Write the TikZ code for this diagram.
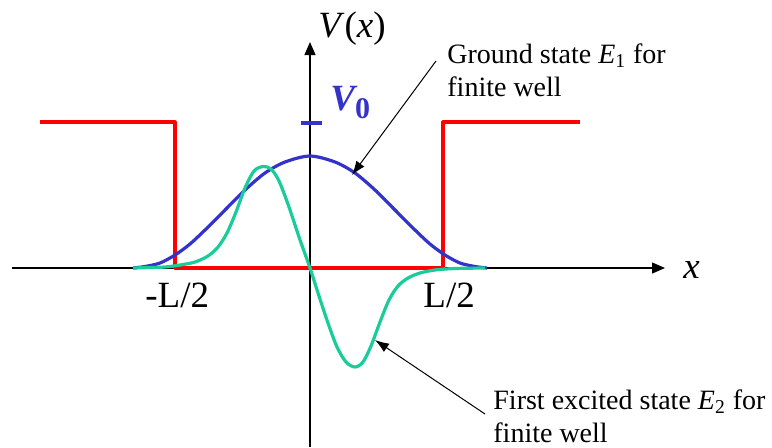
\documentclass[tikz,border=0pt]{standalone}
\usepackage{fontspec}
\setmainfont{Liberation Serif}
\usetikzlibrary{arrows.meta}
\definecolor{wellred}{RGB}{255,0,0}
\definecolor{groundblue}{RGB}{51,51,204}
\definecolor{excitedgreen}{RGB}{26,204,153}

\begin{document}
\begin{tikzpicture}[x=0.5pt, y=-0.5pt, line join=round,
    axis/.style={line width=0.6pt, -{Triangle[length=6.5pt,width=5.5pt]}},
    wave/.style={line width=1.6pt, smooth, tension=0.5},
    pointer/.style={line width=0.5pt, -{Latex[length=7pt,width=5pt]}},
    biglabel/.style={inner sep=0pt, font=\fontsize{18.5}{20}\selectfont},
    note/.style={inner sep=0pt, align=left, font=\fontsize{14}{16.5}\selectfont}]
  \useasboundingbox (0,0) rectangle (772,447);
  % axes
  \coordinate (xl) at (12,268);
  \coordinate (xr) at (665,268);
  \coordinate (yb) at (310,447);
  \coordinate (yt) at (310,42);
  \draw[axis] (xl) -- (xr);
  \draw[axis] (yb) -- (yt);
  \node[biglabel, anchor=base west] (xlab) at (683,278) {\textit{x}};
  \node[biglabel, anchor=base west] (vlab) at (318,37) {\textit{V}(\textit{x})};
  \node[biglabel, anchor=base west] (lm) at (145,307) {-L/2};
  \node[biglabel, anchor=base west] (lp) at (423,307) {L/2};
  % finite well
  \draw[wellred, line width=1.6pt] (40,122) -- (175,122) -- (175,268) -- (443,268) -- (443,122) -- (580,122);
  \coordinate (v0l) at (301,123);
  \coordinate (v0r) at (322,123);
  \draw[groundblue, line width=1.6pt] (v0l) -- (v0r);
  \node[biglabel, groundblue, anchor=base west, font=\fontsize{18.5}{20}\selectfont\bfseries\itshape] (v0) at (330,110)
    {V\raisebox{-4pt}{\fontsize{15}{15}\selectfont\upshape 0}};
  % wave functions
  \draw[groundblue, wave] plot coordinates {(133,268) (145,266.5) (160,263) (175,255) (190,244) (205,230)
    (225,210) (245,190) (265,173) (285,162) (310,156) (335,162) (355,173) (375,190) (395,210) (415,230)
    (430,244) (445,255) (460,263) (475,266.5) (487,268)};
  \draw[excitedgreen, wave] plot coordinates {(133,268) (150,267.5) (165,267) (180,265) (195,262) (208,256)
    (218,247) (227,233) (236,212) (245,188) (254,171) (263,166.5) (271,169) (279,181) (289,207) (299,237)
    (310,268) (319,296) (328,323) (337,347) (346,362) (355,367) (363,362) (371,346) (380,322) (389,300)
    (398,286) (408,278) (420,273) (435,270) (455,268.5) (485,268)};
  % labels
  \node[note, anchor=north west] (gs) at (447,43) {Ground state \textit{E}\textsubscript{1} for\\finite well};
  \node[note, anchor=north west] (es) at (493,389) {First excited state \textit{E}\textsubscript{2} for\\finite well};
  \coordinate (gstail) at (436,61);
  \coordinate (gstip) at (352,175);
  \coordinate (estail) at (485,414);
  \coordinate (estip) at (375,340);
  \draw[pointer] (gstail) -- (gstip);
  \draw[pointer] (estail) -- (estip);
\end{tikzpicture}
\end{document}
